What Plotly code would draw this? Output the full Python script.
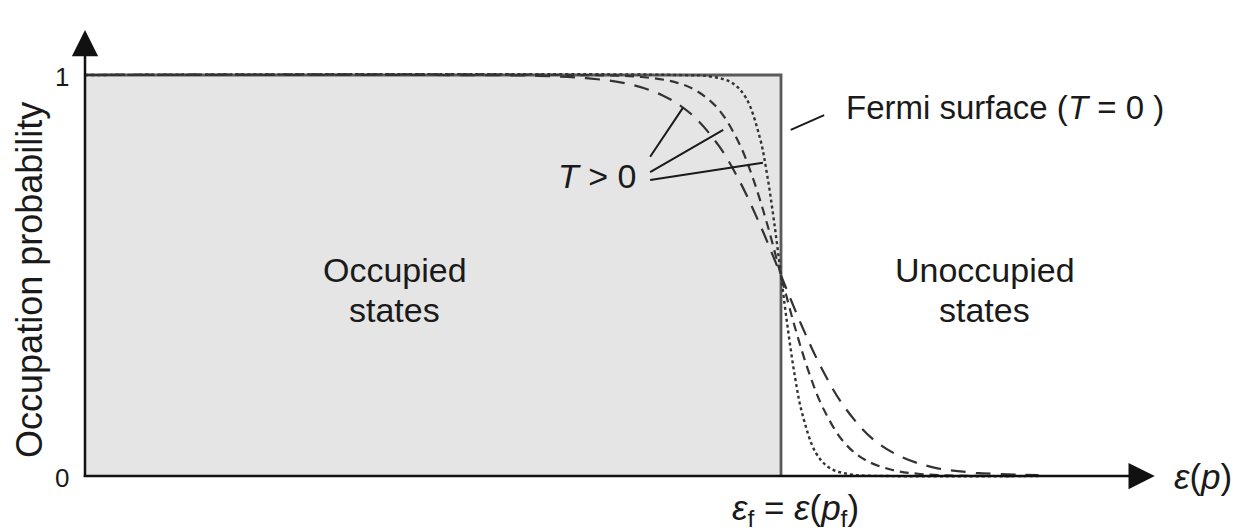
import plotly.graph_objects as go

# ---- data (energies in units of the Fermi energy) ----
step_x = [0.0, 1.0, 1.0]
step_y = [1.0, 1.0, 0.0]

dot_x = [0.0, 0.85, 0.90, 0.93, 0.95, 0.97, 0.98, 0.99, 1.00, 1.01, 1.02, 1.03, 1.05, 1.07, 1.10, 1.15, 1.37]
dot_y = [1.0, 1.0, 0.996, 0.980, 0.942, 0.841, 0.752, 0.635, 0.5, 0.365, 0.248, 0.159, 0.058, 0.020, 0.004, 0.0, 0.0]

sdash_x = [0.0, 0.70, 0.80, 0.85, 0.88, 0.91, 0.94, 0.96, 0.98, 1.00, 1.02, 1.04, 1.06, 1.09, 1.12, 1.16, 1.20, 1.25, 1.37]
sdash_y = [1.0, 1.0, 0.995, 0.981, 0.959, 0.915, 0.829, 0.741, 0.629, 0.5, 0.371, 0.259, 0.171, 0.085, 0.041, 0.015, 0.005, 0.001, 0.0]

ldash_x = [0.0, 0.50, 0.65, 0.72, 0.78, 0.83, 0.87, 0.91, 0.94, 0.97, 1.00, 1.03, 1.06, 1.09, 1.13, 1.17, 1.22, 1.28, 1.37]
ldash_y = [1.0, 1.0, 0.998, 0.992, 0.978, 0.949, 0.904, 0.825, 0.737, 0.626, 0.5, 0.374, 0.263, 0.175, 0.095, 0.050, 0.021, 0.008, 0.002]

tick_vals = [0, 1]
tick_text = ["0", "1"]

# leader lines from "T > 0" to each curve: (x0, y0, x1, y1)
leaders = [
    (0.812, 0.796, 0.859, 0.918),
    (0.812, 0.758, 0.917, 0.863),
    (0.812, 0.738, 0.974, 0.781),
]
fermi_leader = (1.014, 0.863, 1.062, 0.900)

x_axis_end = 1.537
y_axis_end = 1.112

FONT = "Liberation Sans, Arial, sans-serif"
INK = "#1a1a1a"

# page body has an 8px margin: map data so 0 -> screen px 85 / 476, 1 -> 781 / 75
W, H = 1235, 523
PX_X0, PX_Y0 = 77, 468
SX, SY = 696, 401

fig = go.Figure()

fig.add_trace(go.Scatter(x=step_x, y=step_y, mode="lines", fill="tozeroy",
                         fillcolor="#e5e5e5", line=dict(color="#5a5a5a", width=2.8),
                         hoverinfo="skip", showlegend=False))
fig.add_trace(go.Scatter(x=ldash_x, y=ldash_y, mode="lines", line_shape="spline",
                         line=dict(color="#333333", width=2.2, dash="15px,10px"),
                         hoverinfo="skip", showlegend=False))
fig.add_trace(go.Scatter(x=sdash_x, y=sdash_y, mode="lines", line_shape="spline",
                         line=dict(color="#333333", width=2.2, dash="9px,6px"),
                         hoverinfo="skip", showlegend=False))
fig.add_trace(go.Scatter(x=dot_x, y=dot_y, mode="lines", line_shape="spline",
                         line=dict(color="#333333", width=2.4, dash="dot"),
                         hoverinfo="skip", showlegend=False))

shapes = []
for (x0, y0, x1, y1) in leaders + [fermi_leader]:
    shapes.append(dict(type="line", x0=x0, y0=y0, x1=x1, y1=y1, xref="x", yref="y",
                       line=dict(color=INK, width=2)))

annotations = []
annotations.append(dict(x=x_axis_end, y=0, ax=-0.004, ay=0, xref="x", yref="y",
                        axref="x", ayref="y", showarrow=True, arrowhead=2,
                        arrowsize=2.1, arrowwidth=2.5, arrowcolor="#111", text=""))
annotations.append(dict(x=0, y=y_axis_end, ax=0, ay=-0.006, xref="x", yref="y",
                        axref="x", ayref="y", showarrow=True, arrowhead=2,
                        arrowsize=2.1, arrowwidth=2.5, arrowcolor="#111", text=""))
for v, t in zip(tick_vals, tick_text):
    annotations.append(dict(x=0, y=v, xref="x", yref="y", text=t, showarrow=False,
                            xanchor="right", xshift=-14, yshift=-2,
                            font=dict(family=FONT, size=26, color=INK)))

def label(x, y, text, size, **kw):
    d = dict(x=x, y=y, xref="x", yref="y", text=text, showarrow=False,
             font=dict(family=FONT, size=size, color=INK))
    d.update(kw)
    return d

annotations += [
    label(-0.079, 0.489, "Occupation probability", 36, textangle=-90),
    label(0.445, 0.514, "Occupied", 34),
    label(0.445, 0.415, "states", 34),
    label(1.293, 0.514, "Unoccupied", 34),
    label(1.293, 0.415, "states", 34),
    label(1.090, 0.918, "Fermi surface (<i>T</i> = 0 )", 33, xanchor="left"),
    label(0.795, 0.748, "<i>T</i> > 0", 34, xanchor="right"),
    label(1.562, 0.0, "<i>ε</i>(<i>p</i>)", 35, xanchor="left"),
    label(1.021, -0.085, "<i>ε</i><sub>f</sub> = <i>ε</i>(<i>p</i><sub>f</sub>)", 35),
]

fig.update_layout(
    width=W, height=H,
    margin=dict(l=0, r=0, t=0, b=0),
    paper_bgcolor="white", plot_bgcolor="white",
    xaxis=dict(range=[-PX_X0 / SX, (W - PX_X0) / SX], visible=False, fixedrange=True),
    yaxis=dict(range=[(PX_Y0 - H) / SY, PX_Y0 / SY], visible=False, fixedrange=True),
    shapes=shapes, annotations=annotations,
    showlegend=False,
)

fig.write_html("out.html")
